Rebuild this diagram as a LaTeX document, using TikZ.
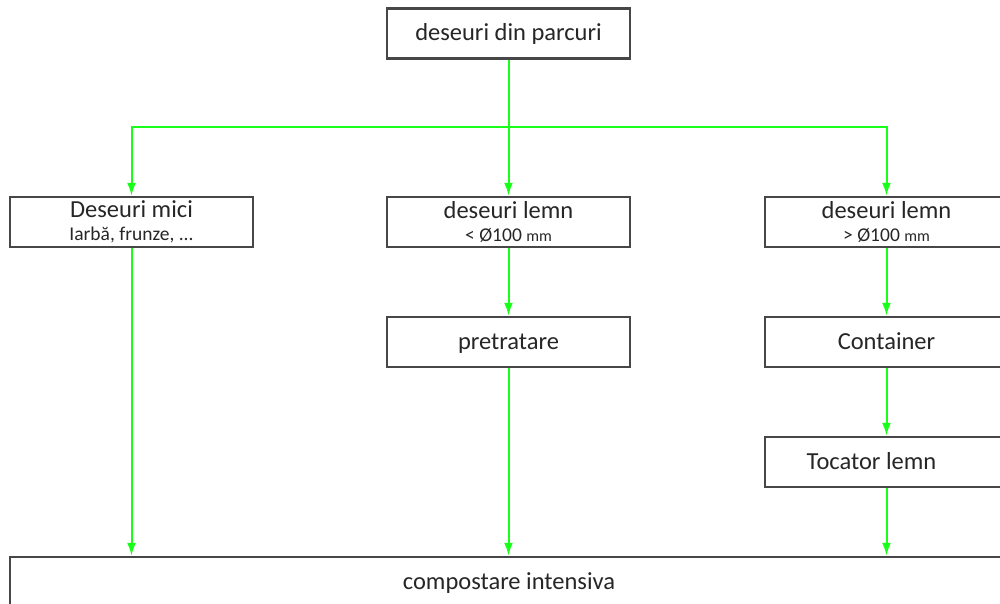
\documentclass[tikz,border=0pt]{standalone}
\usepackage{fontspec}
\setmainfont{Carlito}
\usetikzlibrary{arrows.meta}

\begin{document}
\begin{tikzpicture}[x=1pt,
            y=-1pt,
            >={Latex[width=9pt,length=13pt]},
            flow/.style={draw=green!90!white,line width=2pt},
            stage/.style={draw=black!72,line width=2.5pt,fill=white,
                minimum width=243pt,minimum height=50pt,inner sep=0pt,
                align=center,text=black!85,font=\fontsize{24.5}{26}\selectfont},
            single/.style={text height=19pt,text depth=4pt}]

        \useasboundingbox (0,0) rectangle (1000,604);
        \clip (0,0) rectangle (1000,604);

        \node[stage,single] (parc)  at (508.5,33.5) {deseuri din parcuri};
        \node[stage]        (mici)  at (131.5,222)  {Deseuri mici\\[-3pt]{\fontsize{19.5}{21}\selectfont Iarbă, frunze, ...}};
        \node[stage]        (mic)   at (508.5,222)  {deseuri lemn\\[-3pt]{\fontsize{19.5}{21}\selectfont < Ø100 {\fontsize{16}{18}\selectfont mm}}};
        \node[stage]        (mare)  at (886.5,222)  {deseuri lemn\\[-3pt]{\fontsize{19.5}{21}\selectfont > Ø100 {\fontsize{16}{18}\selectfont mm}}};
        \node[stage,single] (pret)  at (508.5,342)  {pretratare};
        \node[stage,single] (cont)  at (886.5,342)  {Container};
        \node[stage,single] (toc)   at (886.5,462)  {Tocator lemn\hspace*{30pt}};
        \node[stage,single,minimum width=998pt] (comp) at (509,582) {compostare intensiva};

        \coordinate (split) at (508.5,127);

        % ramificare
        \draw[flow] (parc.south) -- (split);
        \draw[flow,->] (split) -| (mici.north);
        \draw[flow,->] (split) -- (mic.north);
        \draw[flow,->] (split) -| (mare.north);

        % lemn
        \draw[flow,->] (mic.south)  -- (pret.north);
        \draw[flow,->] (mare.south) -- (cont.north);
        \draw[flow,->] (cont.south) -- (toc.north);

        % compostare
        \draw[flow,->] (mici.south) -- (mici.south |- comp.north);
        \draw[flow,->] (pret.south) -- (pret.south |- comp.north);
        \draw[flow,->] (toc.south)  -- (toc.south |- comp.north);

    \end{tikzpicture}
\end{document}
